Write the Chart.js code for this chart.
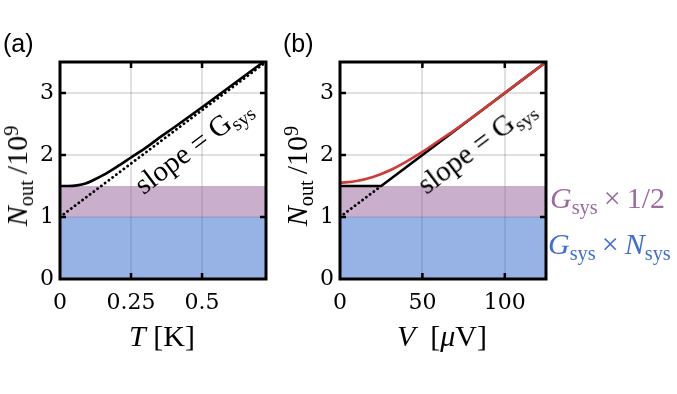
<!DOCTYPE html>
<html>
<head>
<meta charset="utf-8">
<script src="https://cdn.jsdelivr.net/npm/chart.js@4/dist/chart.umd.min.js"></script>
<style>
    html, body { margin: 0; padding: 0; background: #fff; }
    #wrap { position: relative; width: 677px; height: 394px; overflow: hidden; }
    canvas { position: absolute; top: 0; }
    .txt { position: absolute; font-family: 'Liberation Serif', serif; color: #000; white-space: nowrap; line-height: 1; }
    .txt sub { font-size: 0.68em; vertical-align: -0.28em; line-height: 0; }
    .txt sup { font-size: 0.68em; vertical-align: 0.45em; line-height: 0; }
    .center { transform: translate(-50%, -50%); }
    .panel { font-family: 'Liberation Sans', sans-serif; font-size: 25px; }
</style>
</head>
<body>
<div id="wrap">
    <canvas id="chart-a" width="280" height="394" style="left:0"></canvas>
    <canvas id="chart-b" width="280" height="394" style="left:280px"></canvas>

    <div class="txt panel" style="left:3px; top:31px">(a)</div>
    <div class="txt panel" style="left:283px; top:31px">(b)</div>

    <div class="txt" style="left:17px; top:176px; font-size:30px; transform: translate(-50%, -50%) rotate(-90deg)"><i>N</i><sub>out</sub>&thinsp;/10<sup>9</sup></div>
    <div class="txt" style="left:297px; top:176px; font-size:30px; transform: translate(-50%, -50%) rotate(-90deg)"><i>N</i><sub>out</sub>&thinsp;/10<sup>9</sup></div>

    <div class="txt center" style="left:162px; top:336px; font-size:30px"><i>T</i>&nbsp;[K]</div>
    <div class="txt center" style="left:442px; top:336px; font-size:30px"><i>V</i>&nbsp;&nbsp;[<i>μ</i>V]</div>

    <div class="txt" style="left:193px; top:146px; font-size:29px; transform: translate(-50%, -50%) rotate(-37deg)">slope = G<sub>sys</sub></div>
    <div class="txt" style="left:476px; top:146px; font-size:29px; transform: translate(-50%, -50%) rotate(-37deg)">slope = G<sub>sys</sub></div>

    <div class="txt" style="left:550px; top:183px; font-size:30px; color:#9b6a9f"><i>G</i><sub>sys</sub>&thinsp;×&thinsp;1/2</div>
    <div class="txt" style="left:548px; top:229px; font-size:30px; color:#3f6fd6"><i>G</i><sub>sys</sub>&thinsp;×&thinsp;<i>N</i><sub>sys</sub></div>
</div>

<script>
// ---- data ----

// panel (a): output noise vs temperature
const tempK = [0, 0.03, 0.06, 0.09, 0.12, 0.15, 0.2, 0.25, 0.3, 0.35, 0.4, 0.5, 0.6, 0.725];
const noiseVsT = [1.5, 1.5, 1.51, 1.54, 1.6, 1.67, 1.81, 1.96, 2.11, 2.28, 2.44, 2.77, 3.11, 3.53];
const asymT = [0, 0.725];
const asymTNoise = [1, 3.5];
const tempTicks = [0, 0.25, 0.5];

// panel (b): output noise vs bias voltage
const voltUV = [0, 10, 20, 30, 40, 50, 60, 70, 80, 90, 100, 110, 120, 125];
const noiseVsV = [1.55, 1.58, 1.645, 1.75, 1.89, 2.05, 2.23, 2.41, 2.6, 2.8, 3.0, 3.2, 3.4, 3.5];
const kneeV = [0, 25, 125];
const kneeNoise = [1.5, 1.5, 3.5];
const dotV = [0, 25];
const dotNoise = [1, 1.5];
const voltTicks = [0, 50, 100];

// shared
const noiseTicks = [0, 1, 2, 3];
const bandSys = 1;    // G_sys x N_sys
const bandHalf = 1.5; // + G_sys x 1/2

const tickFont = { family: "'DejaVu Serif', serif", size: 22 };

function pts(xs, ys) {
    return xs.map((x, i) => ({ x, y: ys[i] }));
}

// frame with inward tick marks on all four sides
const framePlugin = {
    id: 'frame',
    afterDraw(chart) {
        const { ctx, chartArea: a, scales } = chart;
        ctx.save();
        ctx.strokeStyle = '#000';
        ctx.lineWidth = 2.5;
        ctx.lineCap = 'butt';
        const len = 6;
        scales.x.ticks.forEach(t => {
            const px = scales.x.getPixelForValue(t.value);
            if (px <= a.left + 1 || px >= a.right - 1) return;
            ctx.beginPath();
            ctx.moveTo(px, a.bottom); ctx.lineTo(px, a.bottom - len);
            ctx.moveTo(px, a.top); ctx.lineTo(px, a.top + len);
            ctx.stroke();
        });
        scales.y.ticks.forEach(t => {
            const py = scales.y.getPixelForValue(t.value);
            if (py >= a.bottom - 1 || py <= a.top + 1) return;
            ctx.beginPath();
            ctx.moveTo(a.left, py); ctx.lineTo(a.left + len, py);
            ctx.moveTo(a.right, py); ctx.lineTo(a.right - len, py);
            ctx.stroke();
        });
        ctx.lineWidth = 3;
        ctx.strokeRect(a.left, a.top, a.right - a.left, a.bottom - a.top);
        ctx.restore();
    }
};

function bandSets(xMax) {
    return [
        {
            data: pts([0, xMax], [bandHalf, bandHalf]),
            borderWidth: 0,
            pointRadius: 0,
            backgroundColor: 'rgba(148, 95, 152, 0.5)',
            fill: { value: bandSys },
            order: 10
        },
        {
            data: pts([0, xMax], [bandSys, bandSys]),
            borderWidth: 0,
            pointRadius: 0,
            backgroundColor: 'rgba(48, 102, 204, 0.5)',
            fill: 'origin',
            order: 11
        }
    ];
}

function lineSet(data, color, opts) {
    return Object.assign({
        data,
        borderColor: color,
        borderWidth: 2.6,
        pointRadius: 0,
        fill: false,
        tension: 0
    }, opts || {});
}

function makeOptions(xMax, xTicks, fmt) {
    return {
        responsive: false,
        animation: false,
        layout: { padding: { top: 62, right: 14, left: 0, bottom: 0 } },
        plugins: { legend: { display: false }, tooltip: { enabled: false } },
        scales: {
            x: {
                type: 'linear',
                min: 0,
                max: xMax,
                afterBuildTicks: s => { s.ticks = xTicks.map(v => ({ value: v })); },
                afterFit: s => { s.height = 115; },
                border: { display: false },
                grid: { color: 'rgba(0, 0, 0, 0.12)', lineWidth: 2, drawTicks: false },
                ticks: { color: '#000', font: tickFont, padding: 11, maxRotation: 0, callback: fmt }
            },
            y: {
                min: 0,
                max: 3.5,
                afterBuildTicks: s => { s.ticks = noiseTicks.map(v => ({ value: v })); },
                afterFit: s => { s.width = 60; },
                border: { display: false },
                grid: { color: 'rgba(0, 0, 0, 0.12)', lineWidth: 2, drawTicks: false },
                ticks: { color: '#000', font: tickFont, padding: 6, callback: v => String(v) }
            }
        }
    };
}

new Chart(document.getElementById('chart-a'), {
    type: 'line',
    data: {
        datasets: [
            ...bandSets(0.725),
            lineSet(pts(asymT, asymTNoise), '#000', { borderDash: [0.1, 4.6], borderCapStyle: 'round', borderWidth: 2.8, order: 5 }),
            lineSet(pts(tempK, noiseVsT), '#000', { cubicInterpolationMode: 'monotone', order: 1 })
        ]
    },
    options: makeOptions(0.725, tempTicks, v => String(v)),
    plugins: [framePlugin]
});

new Chart(document.getElementById('chart-b'), {
    type: 'line',
    data: {
        datasets: [
            ...bandSets(125),
            lineSet(pts(dotV, dotNoise), '#000', { borderDash: [0.1, 4.6], borderCapStyle: 'round', borderWidth: 2.8, order: 5 }),
            lineSet(pts(kneeV, kneeNoise), '#000', { order: 3 }),
            lineSet(pts(voltUV, noiseVsV), '#d13a36', { cubicInterpolationMode: 'monotone', order: 1 })
        ]
    },
    options: makeOptions(125, voltTicks, v => String(v)),
    plugins: [framePlugin]
});
</script>
</body>
</html>
